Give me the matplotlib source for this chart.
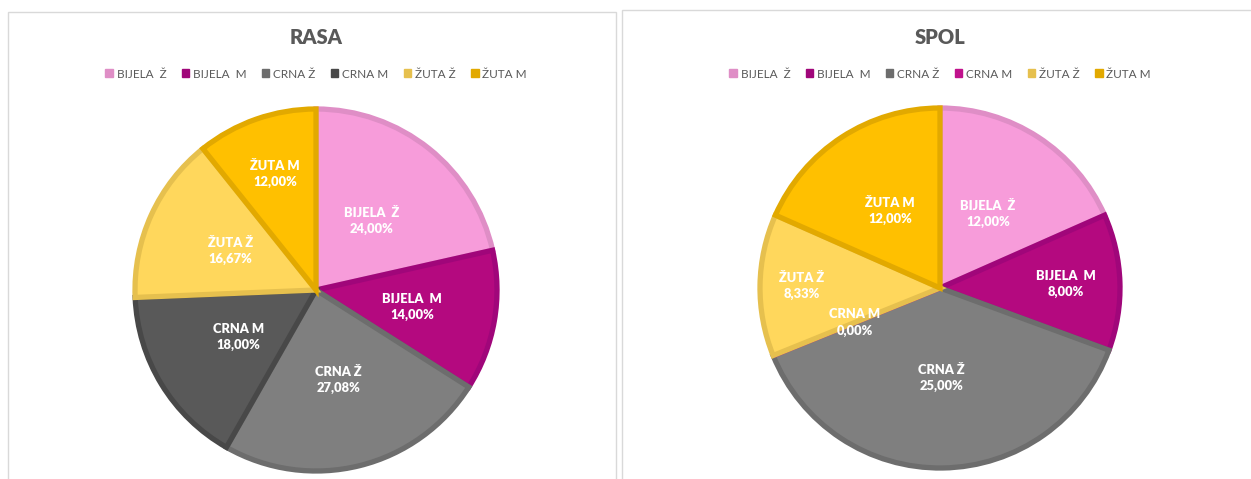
import numpy as np
import matplotlib.pyplot as plt
from matplotlib.patches import Patch, Rectangle

labels = ['BIJELA  Ž', 'BIJELA  M', 'CRNA Ž', 'CRNA M', 'ŽUTA Ž', 'ŽUTA M']
rasa_values = [24.00, 14.00, 27.08, 18.00, 16.67, 12.00]
spol_values = [12.00, 8.00, 25.00, 0.00, 8.33, 12.00]

rasa_faces = ['#F79CDA', '#B4097F', '#7F7F7F', '#595959', '#FFD75C', '#FFC000']
rasa_edges = ['#DF8EC6', '#A0067A', '#6D6D6D', '#484848', '#E6C04E', '#E2A900']
spol_faces = ['#F79CDA', '#B4097F', '#7F7F7F', '#D4159B', '#FFD75C', '#FFC000']
spol_edges = ['#DF8EC6', '#A0067A', '#6D6D6D', '#C0128C', '#E6C04E', '#E2A900']

# how far out each label sits (fraction of radius), excel "best fit" look
rasa_lab_r = [0.49, 0.54, 0.51, 0.50, 0.52, 0.68]
spol_lab_r = [0.49, 0.70, 0.50, 0.51, 0.77, 0.51]

W, H = 1251, 479
fig = plt.figure(figsize=(W / 100, H / 100), dpi=100)
fig.patch.set_facecolor('white')

TXT = '#595959'
FONT = ['Lato', 'DejaVu Sans']


def px(x, y):
    return x / W, 1 - y / H


def draw_pie(cx, cy, r, values, faces, edges, lab_r, title, leg_x):
    lim = 1.08
    side = 2 * lim * r
    ax = fig.add_axes([(cx - side / 2) / W, 1 - (cy + side / 2) / H, side / W, side / H])
    wedges, _ = ax.pie(values, colors=faces, startangle=90, counterclock=False,
                       wedgeprops=dict(linewidth=3.8, joinstyle='miter'))
    for w, ec in zip(wedges, edges):
        w.set_edgecolor(ec)
    ax.set_xlim(-lim, lim)
    ax.set_ylim(-lim, lim)
    ax.set_aspect('equal')
    ax.axis('off')

    for w, lab, v, lr in zip(wedges, labels, values, lab_r):
        mid = np.deg2rad((w.theta1 + w.theta2) / 2)
        txt = lab + '\n' + ('%.2f' % v).replace('.', ',') + '%'
        ax.text(lr * np.cos(mid), lr * np.sin(mid), txt, ha='center', va='center',
                color='white', fontsize=9.3, fontweight='heavy', family=FONT,
                linespacing=1.4)

    tx, ty = px(cx, 38)
    fig.text(tx, ty, title, ha='center', va='center', fontsize=14.5,
             fontweight='heavy', color=TXT, family=FONT)

    handles = [Patch(facecolor=c, edgecolor=c) for c in edges]
    lx, ly = px(leg_x, 74)
    fig.legend(handles, labels, loc='center', bbox_to_anchor=(lx, ly), ncol=6,
               frameon=False, handlelength=0.65, handleheight=0.65,
               handletextpad=0.3, columnspacing=1.3,
               prop=dict(family=FONT, size=8.5), labelcolor=TXT)


# chart frames
fig.add_artist(Rectangle(px(8, 480), 608 / W, 468 / H, transform=fig.transFigure,
                         fill=False, edgecolor='#D9D9D9', linewidth=1))
fig.add_artist(Rectangle(px(622, 480), 640 / W, 470 / H, transform=fig.transFigure,
                         fill=False, edgecolor='#D9D9D9', linewidth=1))

draw_pie(316, 290, 181, rasa_values, rasa_faces, rasa_edges, rasa_lab_r, 'RASA', 316)
draw_pie(940, 288, 180, spol_values, spol_faces, spol_edges, spol_lab_r, 'SPOL', 940)

fig.savefig('out.png', dpi=100)
